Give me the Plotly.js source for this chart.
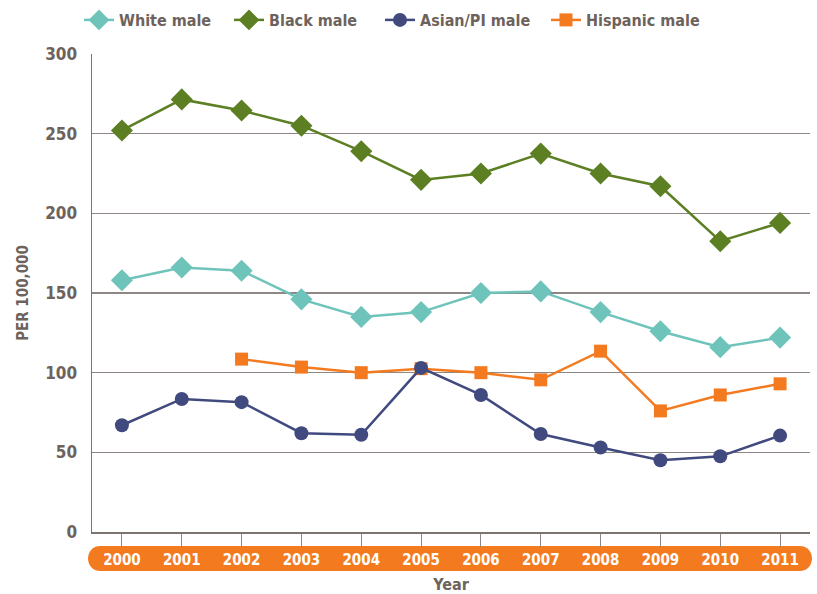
<!DOCTYPE html>
<html>
<head>
<meta charset="utf-8">
<script src="https://cdn.plot.ly/plotly-3.0.1.min.js"></script>
<style>html,body{margin:0;padding:0;background:#fff}#chart{width:817px;height:594px}</style>
</head>
<body>
<div id="chart"></div>
<script>
const years = [2000, 2001, 2002, 2003, 2004, 2005, 2006, 2007, 2008, 2009, 2010, 2011];
const whiteMale = [158, 166, 164, 146, 135, 138, 150, 151, 138, 126, 116, 122];
const blackMale = [252, 271.5, 264.5, 255, 239, 221, 225, 237.5, 225, 217, 182.5, 194];
const asianMale = [67, 83.5, 81.5, 62, 61, 103, 86, 61.5, 53, 45, 47.5, 60.5];
const hispanicMale = [null, null, 108.5, 103.5, 100, 102.5, 100, 95.5, 113.5, 76, 86, 93];
const yTicks = [0, 50, 100, 150, 200, 250, 300];

const FONT = "'Liberation Sans Narrow', 'DejaVu Sans Condensed', 'Arial Narrow', sans-serif";
const TXT = '#6d625c';
const GRID = '#8f8783';

const L = 92, R = 810, T = 54, B = 532;
const px = v => (v - L) / (R - L);
const py = v => (B - v) / (B - T);

function trace(name, y, color, symbol, size, legendId) {
  return {
    type: 'scatter', mode: 'lines+markers', name: name, legend: legendId,
    x: years, y: y, connectgaps: false,
    line: {color: color, width: 2.5},
    marker: {color: color, symbol: symbol, size: size, line: {width: 0}},
    hoverinfo: 'x+y+name'
  };
}

const data = [
  trace('White male', whiteMale, '#6ec4bb', 'diamond', 17, 'legend'),
  trace('Black male', blackMale, '#5b7f22', 'diamond', 17, 'legend2'),
  trace('Hispanic male', hispanicMale, '#f47a20', 'square', 13, 'legend4'),
  trace('Asian/PI male', asianMale, '#414a7f', 'circle', 14, 'legend3')
];

function legendAt(symbolX) {
  return {
    orientation: 'h', x: px(symbolX - 20), xanchor: 'left', y: py(20), yanchor: 'middle',
    font: {family: FONT, size: 16, color: TXT, weight: 'bold'},
    bgcolor: 'rgba(0,0,0,0)', borderwidth: 0,
    itemclick: false, itemdoubleclick: false
  };
}

// orange rounded band under the x tick labels (pixel -> paper)
const bx0 = 88, bx1 = 812, by0 = 546, by1 = 571, r = (by1 - by0) / 2, k = r * 1.33;
const bandPath =
  'M' + px(bx0 + r) + ',' + py(by0) +
  ' L' + px(bx1 - r) + ',' + py(by0) +
  ' C' + px(bx1 - r + k) + ',' + py(by0) + ' ' + px(bx1 - r + k) + ',' + py(by1) + ' ' + px(bx1 - r) + ',' + py(by1) +
  ' L' + px(bx0 + r) + ',' + py(by1) +
  ' C' + px(bx0 + r - k) + ',' + py(by1) + ' ' + px(bx0 + r - k) + ',' + py(by0) + ' ' + px(bx0 + r) + ',' + py(by0) + ' Z';

const layout = {
  width: 817, height: 594,
  margin: {l: L, r: 817 - R, t: T, b: 594 - B, autoexpand: false},
  paper_bgcolor: '#ffffff', plot_bgcolor: '#ffffff',
  font: {family: FONT, color: TXT, size: 14, weight: 'bold'},
  showlegend: true,
  legend: legendAt(99),
  legend2: legendAt(249),
  legend3: legendAt(400),
  legend4: legendAt(566),
  xaxis: {
    range: [1999.5, 2011.5], tickmode: 'array', tickvals: years, ticktext: years.map(String),
    showgrid: false, zeroline: false,
    showline: true, linecolor: '#7d7470', linewidth: 1.5,
    ticks: 'outside', ticklen: 13, tickcolor: GRID, tickwidth: 1,
    tickfont: {family: FONT, size: 15, color: '#ffffff', weight: 'bold'},
    ticklabelstandoff: 0,
    title: {text: 'Year', font: {family: FONT, size: 16, color: TXT, weight: 'bold'}, standoff: 18},
    fixedrange: true
  },
  yaxis: {
    range: [0, 300], tickmode: 'array', tickvals: yTicks,
    showgrid: true, gridcolor: GRID, gridwidth: 1.5, zeroline: false,
    showline: true, linecolor: '#7d7470', linewidth: 1.5,
    ticks: '', ticklabelstandoff: 10,
    tickfont: {family: FONT, size: 17, color: TXT, weight: 'bold'},
    title: {text: 'PER 100,000', font: {family: FONT, size: 15, color: TXT, weight: 'bold'}, standoff: 13},
    fixedrange: true
  },
  shapes: [{
    type: 'path', xref: 'paper', yref: 'paper', path: bandPath,
    fillcolor: '#f47a20', line: {width: 0}, layer: 'below'
  }]
};

Plotly.newPlot('chart', data, layout, {displayModeBar: false, staticPlot: true});
</script>
</body>
</html>
